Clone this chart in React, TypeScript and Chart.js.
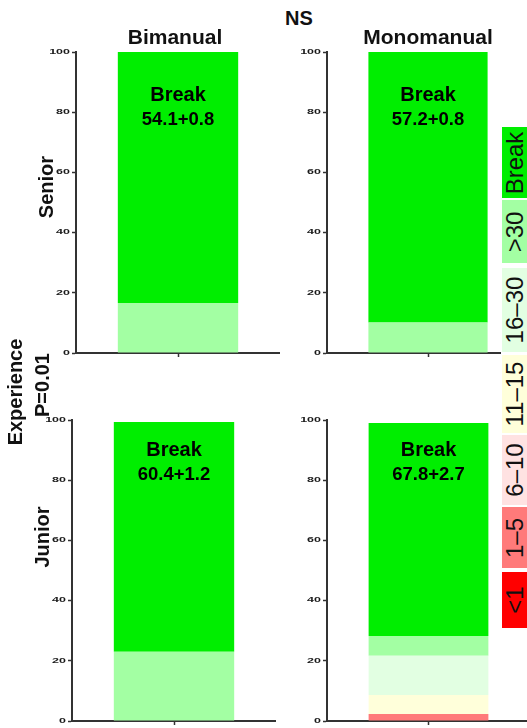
import React, { useEffect, useRef } from 'react';
import { Chart, registerables } from 'chart.js';

Chart.register(...registerables);

// ---- data ----
const segmentLabels = ['<1', '1–5', '6–10', '11–15', '16–30', '>30', 'Break'];
const segmentColors = ['#ff0000', '#ff7a7a', '#ffe2e2', '#ffffda', '#e2ffe2', '#a3ffa3', '#00ee00'];
const yTickValues = [0, 20, 40, 60, 80, 100];
const groupLabels = ['Bimanual', 'Monomanual'];
const rowLabels = ['Senior', 'Junior'];
const seniorBimanual = [0, 0, 0, 0, 0, 16.6, 83.4];
const seniorMonomanual = [0, 0, 0, 0, 0, 10.1, 89.9];
const juniorBimanual = [0, 0, 0, 0, 0, 23.0, 76.3];
const juniorMonomanual = [0, 2.3, 0, 6.3, 13.1, 6.5, 70.8];
const breakValues = ['54.1+0.8', '57.2+0.8', '60.4+1.2', '67.8+2.7'];
const groupStat = 'NS';
const rowStatTitle = 'Experience';
const rowStat = 'P=0.01';

const FONT = '"Liberation Sans", Arial, Helvetica, sans-serif';
const AXIS = '#333333';

const yTickLabelPlugin = {
  id: 'yTickLabels',
  afterDraw(chart: any) {
    const y = chart.scales.y;
    const ctx = chart.ctx;
    ctx.save();
    ctx.fillStyle = '#1a1a1a';
    ctx.font = `bold 10px ${FONT}`;
    ctx.textAlign = 'right';
    ctx.textBaseline = 'middle';
    for (const t of y.ticks) {
      const py = y.getPixelForValue(t.value);
      ctx.save();
      ctx.translate(chart.chartArea.left - 6, py);
      ctx.scale(1.25, 0.65);
      ctx.fillText(String(t.value), 0, 0);
      ctx.restore();
    }
    ctx.restore();
  },
};

const breakNotePlugin = {
  id: 'breakNote',
  afterDatasetsDraw(chart: any, _args: any, opts: any) {
    const ctx = chart.ctx;
    const meta = chart.getDatasetMeta(chart.data.datasets.length - 1);
    const bar = meta.data[0];
    if (!bar) return;
    const x = bar.x;
    const y = chart.scales.y;
    ctx.save();
    ctx.fillStyle = '#000';
    ctx.textAlign = 'center';
    ctx.textBaseline = 'middle';
    ctx.font = `bold 20px ${FONT}`;
    ctx.fillText(opts.title, x, y.getPixelForValue(opts.titleY));
    ctx.font = `bold 18.5px ${FONT}`;
    ctx.fillText(opts.value, x, y.getPixelForValue(opts.valueY));
    ctx.restore();
  },
};

type Area = { left: number; right: number; top: number; bottom: number };

const PADT = 8;
const WY = 30;
const HX = 10;

function Panel({ values, note, noteY, area }: { values: number[]; note: string; noteY: number[]; area: Area }) {
  const ref = useRef<HTMLCanvasElement>(null);
  const w = WY + (area.right - area.left);
  const h = PADT + (area.bottom - area.top) + HX;
  useEffect(() => {
    const chart = new Chart(ref.current as HTMLCanvasElement, {
      type: 'bar',
      data: {
        labels: [''],
        datasets: segmentLabels.map((l, i) => ({
          label: l,
          data: [values[i]],
          backgroundColor: segmentColors[i],
          borderWidth: 0,
          barPercentage: 0.59,
          categoryPercentage: 1,
        })),
      },
      options: {
        responsive: false,
        maintainAspectRatio: false,
        animation: false,
        devicePixelRatio: 1,
        layout: { padding: { top: PADT, left: 0, right: 0, bottom: 0 } },
        plugins: {
          legend: { display: false },
          tooltip: { enabled: false },
          breakNote: { title: 'Break', value: note, titleY: noteY[0], valueY: noteY[1] },
        } as any,
        scales: {
          x: {
            stacked: true,
            offset: true,
            grid: { display: true, offset: false, drawOnChartArea: false, color: AXIS, tickColor: AXIS, tickLength: 4, tickWidth: 1.5 },
            border: { display: true, color: AXIS, width: 2 },
            ticks: { display: false },
            afterFit: (s: any) => { s.height = HX; },
          },
          y: {
            stacked: true,
            min: 0,
            max: 100,
            afterBuildTicks: (s: any) => { s.ticks = yTickValues.map((v) => ({ value: v })); },
            grid: { display: true, drawOnChartArea: false, color: AXIS, tickColor: AXIS, tickLength: 4, tickWidth: 1.5 },
            border: { display: true, color: AXIS, width: 2 },
            ticks: { display: false },
            afterFit: (s: any) => { s.width = WY; },
          },
        } as any,
      },
      plugins: [yTickLabelPlugin, breakNotePlugin],
    });
    return () => chart.destroy();
  }, []);
  return (
    <canvas
      ref={ref}
      width={w}
      height={h}
      style={{ position: 'absolute', left: area.left - WY, top: area.top - PADT, width: w, height: h }}
    />
  );
}

function Text({ x, y, size, bold = true, rotate = false, children }: any) {
  return (
    <div
      style={{
        position: 'absolute',
        left: x,
        top: y,
        transform: `translate(-50%, -50%)${rotate ? ' rotate(-90deg)' : ''}`,
        fontFamily: FONT,
        fontWeight: bold ? 'bold' : 'normal',
        fontSize: size,
        lineHeight: 1,
        whiteSpace: 'nowrap',
        color: '#111',
      }}
    >
      {children}
    </div>
  );
}

const legendBoxes = [
  { top: 572, bottom: 628 },
  { top: 507, bottom: 568 },
  { top: 435, bottom: 505 },
  { top: 355, bottom: 433 },
  { top: 268, bottom: 352 },
  { top: 200, bottom: 263 },
  { top: 127, bottom: 198 },
];

export default function App() {
  return (
    <div style={{ position: 'fixed', left: 0, top: 0, width: 527, height: 728, overflow: 'hidden', background: '#fff' }}>
      <Panel values={seniorBimanual} note={breakValues[0]} noteY={[85.7, 77.4]} area={{ left: 76, right: 280, top: 52, bottom: 353 }} />
      <Panel values={seniorMonomanual} note={breakValues[1]} noteY={[85.7, 77.4]} area={{ left: 327, right: 529, top: 52, bottom: 353 }} />
      <Panel values={juniorBimanual} note={breakValues[2]} noteY={[90, 81.7]} area={{ left: 72, right: 276, top: 420, bottom: 721 }} />
      <Panel values={juniorMonomanual} note={breakValues[3]} noteY={[90, 81.7]} area={{ left: 327, right: 530, top: 420, bottom: 721 }} />

      <Text x={299} y={18} size={20}>{groupStat}</Text>
      <Text x={175} y={36} size={21}>{groupLabels[0]}</Text>
      <Text x={428} y={36} size={21}>{groupLabels[1]}</Text>
      <Text x={46} y={187} size={20} rotate>{rowLabels[0]}</Text>
      <Text x={42} y={537} size={20} rotate>{rowLabels[1]}</Text>
      <Text x={15} y={392} size={20} rotate>{rowStatTitle}</Text>
      <Text x={42} y={385} size={20} rotate>{rowStat}</Text>

      <div style={{ position: 'absolute', left: 501, top: 120, width: 26, height: 515, background: '#fff' }} />
      {legendBoxes.map((b, i) => (
        <div
          key={i}
          style={{
            position: 'absolute',
            left: 502,
            top: b.top,
            width: 25,
            height: b.bottom - b.top,
            background: segmentColors[i],
          }}
        >
          <Text x={13} y={(b.bottom - b.top) / 2} size={24} bold={false} rotate>
            {segmentLabels[i]}
          </Text>
        </div>
      ))}
    </div>
  );
}
